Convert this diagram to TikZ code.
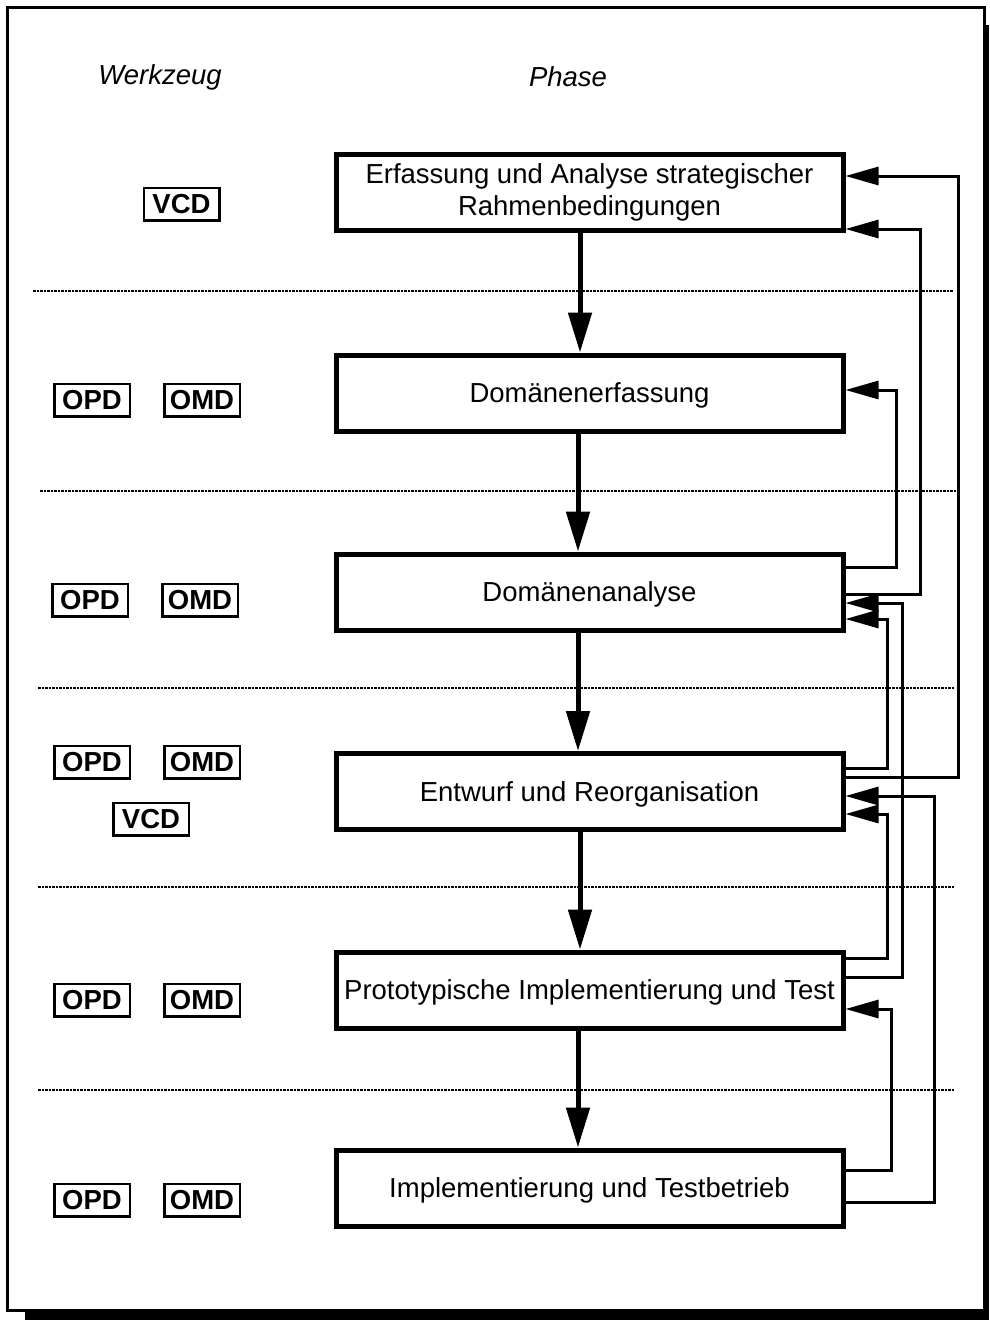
\documentclass[tikz,border=0pt]{standalone}
\usepackage{fontspec}
\setmainfont{Liberation Sans}
\usetikzlibrary{arrows.meta}
\begin{document}
\begin{tikzpicture}[x=1pt,y=-1pt,
  phase/.style={draw,line width=5pt,minimum width=507pt,minimum height=76pt,inner sep=0pt,align=center,font=\fontsize{27.5}{32}\selectfont},
  onerow/.style={text depth=0pt},
  tool/.style={draw,line width=2.5pt,minimum width=75.5pt,minimum height=32.5pt,inner sep=0pt,font=\fontsize{27.5}{30}\selectfont\bfseries},
  head/.style={font=\fontsize{27.5}{30}\selectfont\itshape},
  sep/.style={line width=2pt,dash pattern=on 2.5pt off 1pt},
  flow/.style={line width=5pt,-{Triangle[length=40pt,width=23pt]}},
  back/.style={line width=3pt,-{Triangle[length=33pt,width=18pt]}},
]
\useasboundingbox (0,0) rectangle (989,1320);

% frame with drop shadow
\fill (25,1312) rectangle (989,1320);
\fill (986,25) rectangle (989,1320);
\draw[line width=3pt] (7.5,7.5) rectangle (984.5,1310);

% column headings
\node[head] (hw) at (160,77) {Werkzeug};
\node[head] (hp) at (568,77) {Phase};

% phase boxes
\node[phase] (B1) at (589.5,192) {Erfassung und Analyse strategischer\\Rahmenbedingungen};
\node[phase,onerow] (B2) at (589.5,393) {Domänenerfassung};
\node[phase,onerow] (B3) at (589.5,592) {Domänenanalyse};
\node[phase,onerow] (B4) at (589.5,791.5) {Entwurf und Reorganisation};
\node[phase,onerow] (B5) at (589.5,990) {Prototypische Implementierung und Test};
\node[phase,onerow] (B6) at (589.5,1188) {Implementierung und Testbetrieb};

% tools per phase
\node[tool] (t1a) at (181.5,204) {VCD};
\node[tool] (t2a) at (92,400) {OPD};
\node[tool] (t2b) at (202,400) {OMD};
\node[tool] (t3a) at (90,600) {OPD};
\node[tool] (t3b) at (200,600) {OMD};
\node[tool] (t4a) at (92,762) {OPD};
\node[tool] (t4b) at (202,762) {OMD};
\node[tool] (t4c) at (151,819) {VCD};
\node[tool] (t5a) at (92,1000) {OPD};
\node[tool] (t5b) at (202,1000) {OMD};
\node[tool] (t6a) at (92,1200) {OPD};
\node[tool] (t6b) at (202,1200) {OMD};

% dotted separators
\draw[sep] (33,291) -- (953,291);
\draw[sep] (40,491) -- (960,491);
\draw[sep] (38,688) -- (955,688);
\draw[sep] (38,887) -- (955,887);
\draw[sep] (38,1090) -- (955,1090);

% phase sequence
\draw[flow] (B1.south -| 580,0) -- (B2.north -| 580,0);
\draw[flow] (B2.south -| 578,0) -- (B3.north -| 578,0);
\draw[flow] (B3.south -| 578,0) -- (B4.north -| 578,0);
\draw[flow] (B4.south -| 580,0) -- (B5.north -| 580,0);
\draw[flow] (B5.south -| 578,0) -- (B6.north -| 578,0);

% feedback loops
\draw[back] (B4.east |- 0,777) -| (958,176) -- (B1.east |- 0,176);
\draw[back] (B3.east |- 0,594) -| (920,229) -- (B1.east |- 0,229);
\draw[back] (B3.east |- 0,567) -| (896,390) -- (B2.east |- 0,390);
\draw[back] (B4.east |- 0,768) -| (887,619) -- (B3.east |- 0,619);
\draw[back] (B5.east |- 0,977) -| (902,603) -- (B3.east |- 0,603);
\draw[back] (B5.east |- 0,958) -| (887,814) -- (B4.east |- 0,814);
\draw[back] (B6.east |- 0,1202) -| (934,796) -- (B4.east |- 0,796);
\draw[back] (B6.east |- 0,1170) -| (891,1009) -- (B5.east |- 0,1009);
\end{tikzpicture}
\end{document}
